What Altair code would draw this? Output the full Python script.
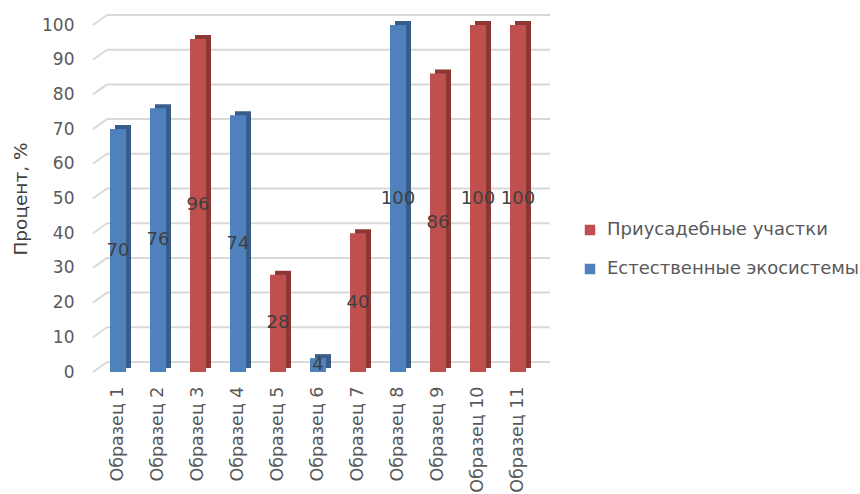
import altair as alt
import pandas as pd

categories = ["Образец 1", "Образец 2", "Образец 3", "Образец 4", "Образец 5", "Образец 6",
              "Образец 7", "Образец 8", "Образец 9", "Образец 10", "Образец 11"]
values = [70, 76, 96, 74, 28, 4, 40, 100, 86, 100, 100]
groups = ["Естественные экосистемы", "Естественные экосистемы", "Приусадебные участки",
          "Естественные экосистемы", "Приусадебные участки", "Естественные экосистемы",
          "Приусадебные участки", "Естественные экосистемы", "Приусадебные участки",
          "Приусадебные участки", "Приусадебные участки"]
series_names = ["Приусадебные участки", "Естественные экосистемы"]
y_ticks = [0, 10, 20, 30, 40, 50, 60, 70, 80, 90, 100]

FONT = "DejaVu Sans"
front_colors = ["#C0504D", "#4F81BD"]
side_colors = ["#8C3836", "#385D8A"]

df = pd.DataFrame({"cat": categories, "value": values, "group": groups})
df["mid"] = df["value"] / 2
grid_df = pd.DataFrame({"v": y_ticks})

yscale = alt.Scale(domain=[0, 100], nice=False, zero=True)
xscale = alt.Scale(domain=categories, paddingInner=0, paddingOuter=0)

yaxis = alt.Axis(
    values=y_ticks, tickCount=11, grid=False, domain=False, ticks=False, labelPadding=24,
    labelOverlap=False,
    labelFont=FONT, labelFontSize=17, labelColor="#595959",
    title="Процент, %", titleFont=FONT, titleFontSize=18.5, titleFontWeight="normal",
    titleColor="#404040", titleAngle=270, titleX=-72, titleY=173.5,
    titleAlign="center", titleBaseline="alphabetic")

xaxis = alt.Axis(
    title=None, labelAngle=270, labelFont=FONT, labelFontSize=17.5, labelColor="#595959",
    domain=False, ticks=False, labelPadding=14)

grid_h = alt.Chart(grid_df).mark_rule(color="#D9D9D9", strokeWidth=2, yOffset=-10).encode(
    y=alt.Y("v:Q", scale=yscale, axis=yaxis),
    x=alt.value(9), x2=alt.value(452),
)

grid_s = alt.Chart(grid_df).mark_rule(color="#D9D9D9", strokeWidth=2, y2Offset=-10).encode(
    y=alt.Y("v:Q", scale=yscale, axis=yaxis), y2=alt.Y2("v:Q"),
    x=alt.value(-5), x2=alt.value(9),
)

side = alt.Chart(df).mark_bar(width=16, xOffset=5, yOffset=-4).encode(
    x=alt.X("cat:N", scale=xscale, sort=categories, axis=xaxis),
    y=alt.Y("value:Q", scale=yscale, axis=yaxis),
    color=alt.Color("group:N", scale=alt.Scale(domain=series_names, range=side_colors), legend=None),
)

front = alt.Chart(df).mark_bar(width=16).encode(
    x=alt.X("cat:N", scale=xscale, sort=categories, axis=xaxis),
    y=alt.Y("value:Q", scale=yscale, axis=yaxis),
    color=alt.Color("group:N", scale=alt.Scale(domain=series_names, range=front_colors),
                    legend=alt.Legend(title=None, orient="none", legendX=483, legendY=196,
                                      symbolType="square", symbolSize=110, symbolStrokeWidth=0,
                                      labelFont=FONT, labelFontSize=18, labelColor="#595959",
                                      labelOffset=8, rowPadding=21, labelLimit=400)),
)

labels = alt.Chart(df).mark_text(font=FONT, fontSize=18, color="#404040").encode(
    x=alt.X("cat:N", scale=xscale, sort=categories, axis=xaxis),
    y=alt.Y("mid:Q", scale=yscale, axis=yaxis),
    text=alt.Text("value:Q"),
)

chart = alt.layer(grid_h, grid_s, side, front, labels).resolve_scale(color="independent").properties(
    width=440, height=347,
    autosize=alt.AutoSizeParams(type="none"),
    padding={"left": 98, "top": 25, "right": 322, "bottom": 122},
    background="white",
).configure_view(stroke=None).configure_axis(labelOverlap=False)

chart.save("out.html", embed_options={"renderer": "svg", "actions": False})
